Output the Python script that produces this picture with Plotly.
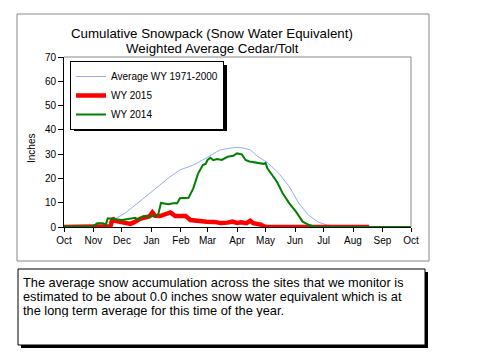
import plotly.graph_objects as go

# ---- data (day of water year, starting Oct 1) ----
month_ticks = [0, 31, 61, 92, 123, 151, 182, 212, 243, 273, 304, 335, 365]
month_labels = ["Oct", "Nov", "Dec", "Jan", "Feb", "Mar", "Apr", "May", "Jun", "Jul", "Aug", "Sep", "Oct"]

avg_days = [0, 31, 40, 48, 64, 78, 92, 101, 111, 122, 136, 146, 155, 164, 173, 182, 189, 196, 202, 215, 226, 237, 247, 257, 268, 277, 288, 300, 365]
avg_vals = [0, 0, 0.5, 2.2, 5.6, 10.0, 14.5, 17.3, 20.5, 23.5, 25.5, 27.6, 29.8, 31.7, 32.4, 32.8, 32.5, 31.7, 29.6, 26.2, 22.1, 16.6, 9.8, 4.9, 1.9, 0.8, 0.2, 0, 0]

wy2015_days = [0, 46, 49, 51, 53, 55, 58, 62, 66, 70, 74, 80, 86, 90, 93, 96, 101, 106, 112, 117,
               122, 128, 133, 138, 143, 150, 158, 165, 172, 177, 182, 186, 192, 196, 199, 203, 207, 210, 213, 321]
wy2015_vals = [0, 0, 0.3, 3.6, 2.6, 2.5, 2.2, 2.0, 1.5, 1.3, 2.0, 3.4, 4.0, 4.4, 6.0, 4.6, 4.5, 5.0, 6.0, 4.5,
               4.4, 4.5, 2.9, 2.6, 2.5, 2.2, 2.1, 1.6, 1.8, 2.2, 1.7, 1.9, 1.6, 2.6, 1.6, 1.4, 1.0, 0.3, 0, 0]

wy2014_days = [0, 30, 33, 35, 41, 44, 46, 50, 54, 61, 68, 75, 78, 83, 96, 99, 102, 106, 110, 115,
               119, 122, 131, 136, 141, 146, 149, 151, 154, 157, 161, 166, 172, 178, 182, 187, 191, 195, 200, 205,
               210, 212, 214, 219, 224, 230, 237, 244, 251, 258, 263, 270, 365]
wy2014_vals = [0.2, 0.3, 1.0, 1.5, 1.5, 1.0, 3.6, 3.3, 3.2, 2.9, 3.3, 3.8, 3.0, 4.4, 4.4, 5.0, 9.9, 9.5, 9.4, 9.8,
               9.75, 11.8, 12.0, 15.9, 22.0, 25.5, 26.0, 27.6, 28.5, 27.5, 28.0, 27.6, 28.9, 29.3, 30.3, 29.9, 27.6, 27.0, 26.6, 26.2,
               26.0, 26.4, 24.1, 21.4, 18.6, 13.9, 9.75, 6.3, 2.2, 0.8, 0.2, 0, 0]

title_lines = ["Cumulative Snowpack (Snow Water Equivalent)", "Weighted Average Cedar/Tolt"]
note_lines = ["The average snow accumulation across the sites that we monitor is",
              "estimated to be about 0.0 inches snow water equivalent which is at",
              "the long term average for this time of the year."]

# page has an 8px body margin: size the figure to fill the rest of the window
OFF = 8
W, H = 480 - OFF, 361 - OFF
FONT = "Liberation Sans, Arial, sans-serif"


def fx(p):
    return (p - OFF) / W


def fy(p):
    return 1 - (p - OFF) / H


fig = go.Figure()
fig.add_trace(go.Scatter(x=avg_days, y=avg_vals, mode="lines", name="Average WY 1971-2000",
                         line=dict(color="#99aaff", width=1)))
fig.add_trace(go.Scatter(x=wy2015_days, y=wy2015_vals, mode="lines", name="WY 2015",
                         line=dict(color="#ff0000", width=4.5)))
fig.add_trace(go.Scatter(x=wy2014_days, y=wy2014_vals, mode="lines", name="WY 2014",
                         line=dict(color="#008000", width=2)))

shapes = [
    # outer chart frame
    dict(type="rect", xref="paper", yref="paper", x0=fx(17), x1=fx(429), y0=fy(261), y1=fy(14),
         line=dict(color="#888888", width=1), fillcolor="rgba(0,0,0,0)", layer="below"),
    # plot area top/right border
    dict(type="line", xref="paper", yref="paper", x0=fx(64), x1=fx(411), y0=fy(57), y1=fy(57),
         line=dict(color="#888888", width=1)),
    dict(type="line", xref="paper", yref="paper", x0=fx(411), x1=fx(411), y0=fy(57), y1=fy(227),
         line=dict(color="#888888", width=1)),
    # text box shadow + box
    dict(type="rect", xref="paper", yref="paper", x0=fx(21), x1=fx(428), y0=fy(348), y1=fy(272),
         line=dict(width=0), fillcolor="black"),
    dict(type="rect", xref="paper", yref="paper", x0=fx(18), x1=fx(425), y0=fy(345), y1=fy(269),
         line=dict(color="black", width=1), fillcolor="white"),
    # legend shadow
    dict(type="rect", xref="paper", yref="paper", x0=fx(74), x1=fx(227), y0=fy(131), y1=fy(65),
         line=dict(width=0), fillcolor="black"),
]

annotations = []
for i, t in enumerate(title_lines):
    annotations.append(dict(xref="paper", yref="paper", x=fx(212), y=fy(33 + 15 * i), text=t,
                            showarrow=False, xanchor="center", yanchor="middle", height=15,
                            font=dict(family=FONT, size=13.3, color="black")))
for i, t in enumerate(note_lines):
    annotations.append(dict(xref="paper", yref="paper", x=fx(21), y=fy(282 + 14 * i), text=t,
                            showarrow=False, xanchor="left", yanchor="middle", height=14,
                            font=dict(family=FONT, size=12.8, color="black")))
annotations.append(dict(xref="paper", yref="paper", x=fx(31), y=fy(149), text="Inches",
                        showarrow=False, textangle=-90, xanchor="center", yanchor="middle",
                        font=dict(family=FONT, size=10, color="black")))

fig.update_layout(
    width=W, height=H,
    margin=dict(l=0, r=0, t=0, b=0, pad=0, autoexpand=False),
    paper_bgcolor="white", plot_bgcolor="white",
    font=dict(family=FONT, size=10, color="black"),
    showlegend=True,
    legend=dict(x=fx(70), y=fy(61), xanchor="left", yanchor="top",
                bgcolor="white", bordercolor="black", borderwidth=1,
                font=dict(family=FONT, size=10, color="black"), tracegroupgap=0),
    xaxis=dict(domain=[fx(64), fx(411)], range=[0, 365], tickmode="array",
               tickvals=month_ticks, ticktext=month_labels, ticks="outside", ticklen=4,
               tickcolor="black", showline=True, linecolor="black", linewidth=1,
               showgrid=False, zeroline=False, tickfont=dict(size=10), automargin=False),
    yaxis=dict(domain=[fy(227), fy(57)], range=[0, 70], tickmode="linear", tick0=0, dtick=10,
               ticks="outside", ticklen=5, tickcolor="black", showline=True, linecolor="black",
               linewidth=1, showgrid=False, zeroline=False, tickfont=dict(size=10), automargin=False),
    shapes=shapes,
    annotations=annotations,
)

fig.write_html("out.html")
